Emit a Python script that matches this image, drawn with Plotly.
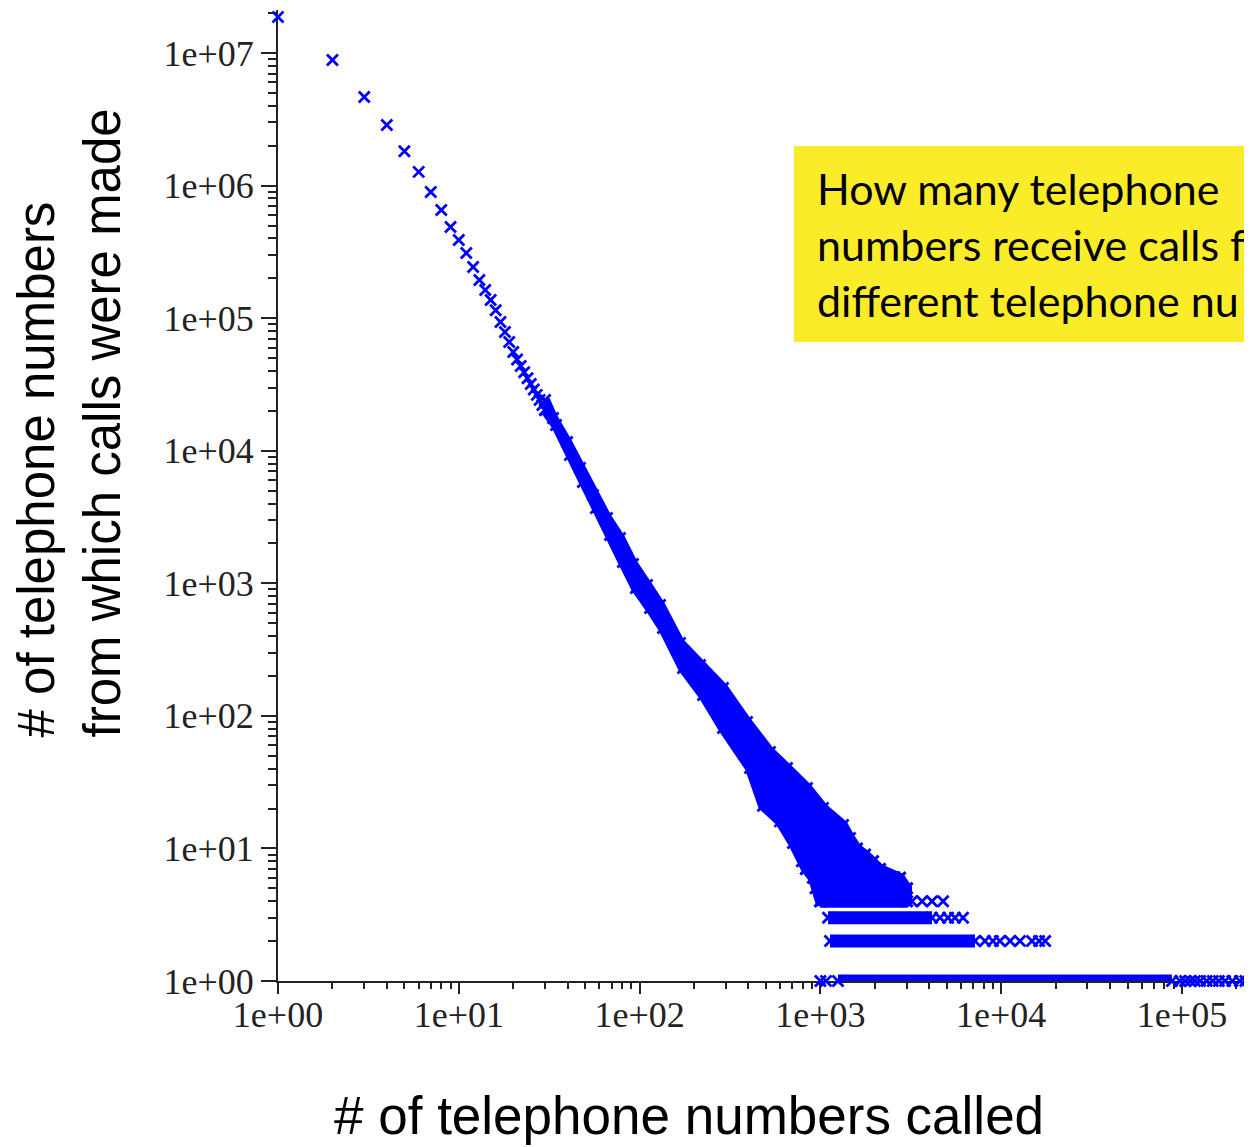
import plotly.graph_objects as go

BLUE = "#0000FF"

# ---- data ----
# individual points at the head of the distribution
head_x = list(range(1, 31))
head_y = [1.87e7, 8.86e6, 4.66e6, 2.87e6, 1.82e6, 1.27e6, 8.95e5, 6.55e5, 4.87e5, 3.89e5,
          3.10e5, 2.43e5, 1.94e5, 1.63e5, 1.37e5, 1.15e5, 9.35e4, 7.86e4, 6.61e4, 5.56e4,
          4.89e4, 4.36e4, 3.91e4, 3.53e4, 3.19e4, 2.90e4, 2.64e4, 2.42e4, 2.21e4, 2.03e4]

# dense cloud: upper and lower edge of the point cloud (marker centres)
cloud_upper_x = [30.0, 33.2, 39.7, 46.8, 55.2, 66.0, 77.9, 91.9, 109.9, 129.7, 167.3, 215.9,
                 289.3, 392.7, 526.3, 653.5, 843.3, 1034, 1334, 1458, 1594, 1765, 1954, 2136,
                 2756, 3013, 3013]
cloud_upper_y = [24130, 17650, 11630, 7410, 4634, 3108, 2196, 1398, 970.7, 686, 354.4, 241.9,
                 162.3, 89.9, 53.4, 40.4, 28.6, 20.2, 15, 12, 10, 9, 8, 7, 6, 5, 4]
cloud_lower_x = [995, 910, 832, 705.5, 597.7, 481.5, 408, 289.3, 224.3, 173.8, 134.7, 114.2,
                 95.5, 80.9, 68.6, 57.4, 48.6, 41.2, 34.5, 30.0]
cloud_lower_y = [4, 6, 7, 11, 16, 21, 40.4, 81.0, 143.7, 229.6, 460, 651, 921, 1447, 2314,
                 3699, 5808, 9284, 15630, 20290]

# dense horizontal rows at small integer counts
row_y = [1, 2, 3, 4, 5, 6, 7, 8]
row_x_start = [1251, 1130, 1102, 995, 940, 910, 832, 790]
row_x_end = [88000, 7160, 4143, 3013, 3013, 2756, 2136, 1954]

# sparse points at the tail of the rows
tail1_x = [1000, 1074, 97500, 104000, 111000, 118000, 126000, 137000, 148000, 160000,
           173000, 190000, 209000, 224000, 238000]
tail2_x = [8130, 9000, 9840, 11200, 12700, 14800, 16200, 17500]
tail3_x = [4590, 5080, 5550, 6150]
tail4_x = [3210, 3650, 4140, 4770]

x_tickvals = [1, 10, 100, 1000, 10000, 100000]
x_ticktext = ["1e+00", "1e+01", "1e+02", "1e+03", "1e+04", "1e+05"]
y_tickvals = [1, 10, 100, 1000, 10000, 100000, 1000000, 10000000]
y_ticktext = ["1e+00", "1e+01", "1e+02", "1e+03", "1e+04", "1e+05", "1e+06", "1e+07"]

# page is drawn with an 8px body margin -> figure shifted by 8px
OFF = 8
W, H = 1252, 1147 - OFF
ML, MR, MT = 278 - OFF, 0, 10 - OFF
MB = H - (981 - OFF)
XMAX = (1252 + OFF - 278) / 180.8  # log10 at the right edge of the figure

marker = dict(symbol="x-thin", size=11, color=BLUE, line=dict(color=BLUE, width=2.8))

fig = go.Figure()

# cloud polygon
fig.add_trace(go.Scatter(
    x=cloud_upper_x + cloud_lower_x, y=cloud_upper_y + cloud_lower_y,
    mode="lines+markers", fill="toself", fillcolor=BLUE,
    line=dict(color=BLUE, width=10), marker=marker, cliponaxis=False,
    hoverinfo="skip", showlegend=False))

# rows
for yv, x0, x1 in zip(row_y, row_x_start, row_x_end):
    fig.add_trace(go.Scatter(
        x=[x0, x1], y=[yv, yv], mode="lines+markers",
        line=dict(color=BLUE, width=13), marker=marker, cliponaxis=False,
        hoverinfo="skip", showlegend=False))

# tails
for tx, yv in [(tail1_x, 1), (tail2_x, 2), (tail3_x, 3), (tail4_x, 4)]:
    fig.add_trace(go.Scatter(
        x=tx, y=[yv] * len(tx), mode="markers", marker=marker,
        cliponaxis=False, hoverinfo="skip", showlegend=False))

# head
fig.add_trace(go.Scatter(
    x=head_x, y=head_y, mode="markers", marker=marker,
    cliponaxis=False, showlegend=False))

tickfont = dict(family="Liberation Serif", size=36, color="#222")
minor_x = [m * 10 ** k for k in range(0, 6) for m in range(2, 10)]
minor_y = [m * 10 ** k for k in range(0, 8) for m in range(2, 10)]

fig.update_xaxes(
    type="log", range=[0, XMAX], showline=True, linecolor="#222", linewidth=2,
    ticks="outside", ticklen=11, tickwidth=2, tickcolor="#222",
    tickmode="array", tickvals=x_tickvals, ticktext=x_ticktext, tickfont=tickfont,
    ticklabelstandoff=-10,
    showgrid=False, zeroline=False, layer="below traces",
    minor=dict(tickmode="array", tickvals=minor_x, ticks="outside", ticklen=6,
               tickwidth=2, tickcolor="#222", showgrid=False))
fig.update_yaxes(
    type="log", range=[0, 7.325], showline=True, linecolor="#222", linewidth=2,
    ticks="outside", ticklen=15, tickwidth=2, tickcolor="#222",
    tickmode="array", tickvals=y_tickvals, ticktext=y_ticktext, tickfont=tickfont,
    showgrid=False, zeroline=False, layer="below traces",
    minor=dict(tickmode="array", tickvals=minor_y, ticks="outside", ticklen=8,
               tickwidth=2, tickcolor="#222", showgrid=False))

dw = W - ML - MR
dh = H - MT - MB


def px2paper_x(px):
    return (px - OFF - ML) / dw


def px2paper_y(py):
    return (H - MB - (py - OFF)) / dh


# yellow box
fig.add_shape(type="rect", xref="paper", yref="paper",
              x0=px2paper_x(794), x1=px2paper_x(1270),
              y0=px2paper_y(342), y1=px2paper_y(146),
              fillcolor="#FBEC2A", line=dict(width=0), layer="above")
fig.add_annotation(
    xref="paper", yref="paper", x=px2paper_x(815), y=px2paper_y(245),
    xanchor="left", yanchor="middle", align="left", showarrow=False,
    text="How many telephone<br>numbers receive calls f<br>different telephone nu",
    font=dict(family="Lato", size=43, color="black"))

# axis titles
fig.add_annotation(
    xref="paper", yref="paper", x=px2paper_x(689), y=px2paper_y(1115),
    xanchor="center", yanchor="middle", showarrow=False,
    text="# of telephone numbers called",
    font=dict(family="Liberation Sans", size=53, color="black"))
fig.add_annotation(
    xref="paper", yref="paper", x=px2paper_x(69), y=px2paper_y(740),
    xanchor="center", yanchor="bottom", showarrow=False, textangle=-90, align="left",
    text="# of telephone numbers<br>from which calls were made",
    font=dict(family="Liberation Sans", size=51, color="black"))

fig.update_layout(
    width=W, height=H, margin=dict(l=ML, r=MR, t=MT, b=MB),
    plot_bgcolor="white", paper_bgcolor="white")

fig.write_html("out.html")
